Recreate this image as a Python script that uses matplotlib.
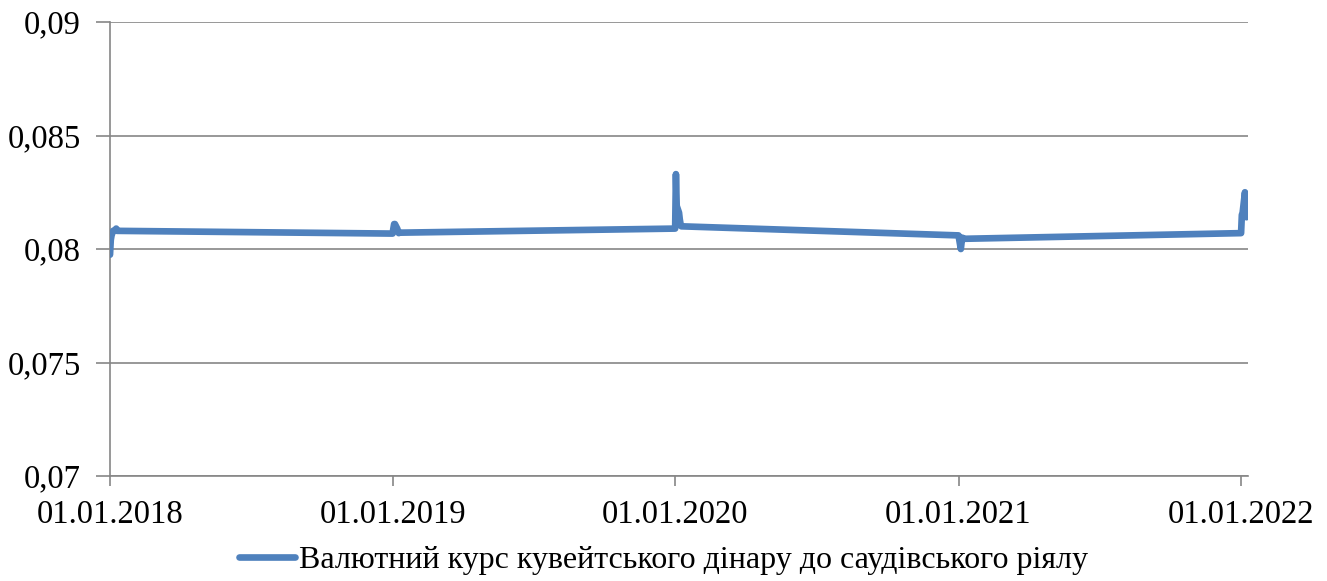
import pandas as pd
import matplotlib.pyplot as plt
import matplotlib.dates as mdates
from matplotlib.ticker import FixedLocator, FuncFormatter

plt.rcParams['font.family'] = ['Liberation Serif', 'DejaVu Serif']

# Early-January observations of each year (KWD / SAR)
dates_2018 = ['2018-01-01', '2018-01-02', '2018-01-03', '2018-01-04', '2018-01-05', '2018-01-08', '2018-01-09', '2018-01-10']
rates_2018 = [0.07975, 0.0804, 0.0806, 0.0807, 0.0808, 0.08085, 0.0809, 0.0808]

dates_2019 = ['2019-01-01', '2019-01-02', '2019-01-03', '2019-01-04', '2019-01-07', '2019-01-09', '2019-01-10']
rates_2019 = [0.08068, 0.0809, 0.0811, 0.0811, 0.0809, 0.0807, 0.08072]

dates_2020 = ['2020-01-01', '2020-01-02', '2020-01-03', '2020-01-06', '2020-01-07', '2020-01-08', '2020-01-09']
rates_2020 = [0.0809, 0.0833, 0.0819, 0.0816, 0.0813, 0.0811, 0.0810]

dates_2021 = ['2021-01-01', '2021-01-04', '2021-01-05', '2021-01-06', '2021-01-08']
rates_2021 = [0.0806, 0.0800, 0.0803, 0.0805, 0.08045]

dates_2022 = ['2022-01-01', '2022-01-02', '2022-01-03', '2022-01-05', '2022-01-06', '2022-01-08']
rates_2022 = [0.0807, 0.0815, 0.0816, 0.0822, 0.0825, 0.0814]

tick_dates = ['2018-01-01', '2019-01-01', '2020-01-01', '2021-01-01', '2022-01-01']
y_ticks = [0.07, 0.075, 0.08, 0.085, 0.09]
series_label = 'Валютний курс кувейтського дінару до саудівського ріялу'

dates = pd.to_datetime(dates_2018 + dates_2019 + dates_2020 + dates_2021 + dates_2022)
rates = rates_2018 + rates_2019 + rates_2020 + rates_2021 + rates_2022

fig = plt.figure(figsize=(13.27, 5.81), dpi=100)
ax = fig.add_axes([0.0829, 0.1807, 0.8576, 0.7814])

ax.plot(dates, rates, color='#4F81BD', linewidth=4.8, solid_joinstyle='round',
        solid_capstyle='round', label=series_label, zorder=3)

ax.set_ylim(0.07, 0.09)
ax.set_yticks(y_ticks)
ax.yaxis.set_major_formatter(FuncFormatter(lambda v, p: ('%g' % round(v, 4)).replace('.', ',')))
ax.set_xlim(pd.Timestamp('2018-01-01'), pd.Timestamp('2022-01-10'))
ax.xaxis.set_major_locator(FixedLocator(mdates.date2num(pd.to_datetime(tick_dates))))
ax.xaxis.set_major_formatter(mdates.DateFormatter('%d.%m.%Y'))

ax.grid(axis='y', color='#868686', linewidth=1.2)
ax.set_axisbelow(True)
for s in ['top', 'right']:
    ax.spines[s].set_visible(False)
for s in ['left', 'bottom']:
    ax.spines[s].set_color('#868686')
    ax.spines[s].set_linewidth(1.2)
ax.tick_params(axis='both', colors='#868686', labelcolor='black', labelsize=23.5, width=1.2)
ax.tick_params(axis='y', length=10, pad=11)
ax.tick_params(axis='x', length=7, pad=10)

fig.legend(loc='lower center', bbox_to_anchor=(0.5, -0.04), frameon=False, fontsize=23,
           handlelength=1.75, handletextpad=0.15)

fig.savefig('out.png', dpi=100)
